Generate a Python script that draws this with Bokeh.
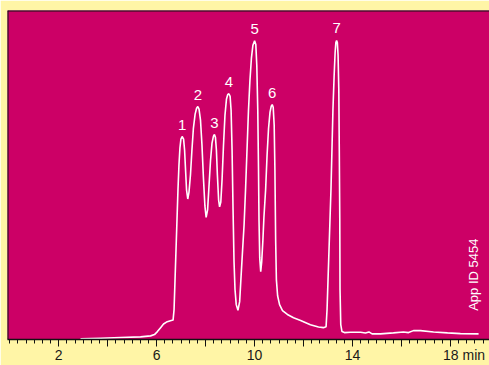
import math
from bokeh.plotting import figure
from bokeh.models import Range1d, FixedTicker, Label, ColumnDataSource, Span
from bokeh.core.properties import value
from bokeh.embed import file_html
from bokeh.resources import INLINE

# Chromatogram trace (time in minutes, detector signal in arbitrary units)
time_min = [
    2.89, 3.71, 4.52, 5.34, 5.75, 5.91, 6.03, 6.16, 6.28, 6.40, 6.56, 6.67,
    6.71, 6.75, 6.79, 6.83, 6.87, 6.91, 6.95, 6.99, 7.04, 7.10, 7.14, 7.18,
    7.22, 7.27, 7.32, 7.38, 7.44, 7.50, 7.57, 7.63, 7.68, 7.73, 7.79, 7.85,
    7.91, 7.97, 8.02, 8.08, 8.14, 8.20, 8.26, 8.32, 8.36, 8.40, 8.44, 8.48,
    8.53, 8.57, 8.62, 8.67, 8.73, 8.79, 8.85, 8.90, 8.95, 9.00, 9.04, 9.08,
    9.12, 9.16, 9.20, 9.25, 9.32, 9.39, 9.44, 9.51, 9.57, 9.63, 9.69, 9.75,
    9.81, 9.87, 9.93, 10.00, 10.05, 10.09, 10.13, 10.16, 10.18, 10.21, 10.25,
    10.29, 10.34, 10.38, 10.45, 10.51, 10.57, 10.63, 10.68, 10.72, 10.76,
    10.80, 10.83, 10.86, 10.89, 10.94, 11.02, 11.14, 11.34, 11.59, 11.88,
    12.28, 12.61, 12.81, 12.92, 12.96, 13.00, 13.04, 13.08, 13.12, 13.16,
    13.20, 13.25, 13.29, 13.32, 13.35, 13.38, 13.41, 13.44, 13.46, 13.48,
    13.49, 13.52, 13.57, 13.67, 13.92, 14.33, 14.53, 14.67, 14.80, 15.14,
    15.67, 16.08, 16.29, 16.49, 16.78, 17.31, 17.88, 18.41, 19.15,
]
signal = [
    0.2, 0.4, 0.6, 0.8, 1.1, 1.5, 2.4, 3.6, 4.7, 5.3, 5.7, 5.9,
    9.1, 18.2, 27.3, 36.4, 45.5, 53.0, 58.2, 60.9, 61.7, 60.9, 57.6, 51.5,
    45.5, 42.7, 44.8, 50.0, 57.6, 64.2, 68.5, 70.3, 70.8, 70.0, 66.7, 59.1,
    49.1, 40.6, 37.1, 39.4, 47.0, 54.5, 59.7, 61.8, 62.3, 61.5, 57.6, 50.0,
    42.4, 40.3, 41.8, 48.5, 59.1, 68.2, 73.0, 74.4, 74.7, 73.9, 69.7, 57.6,
    39.4, 23.6, 15.2, 10.6, 8.9, 11.5, 18.2, 27.3, 34.8, 45.5, 57.6, 69.7,
    78.8, 85.5, 89.4, 90.8, 89.7, 83.3, 69.7, 51.5, 36.4, 24.8, 20.6,
    23.6, 30.3, 37.0, 45.5, 56.1, 64.2, 69.1, 70.9, 71.4, 70.6,
    65.2, 51.5, 30.3, 18.2, 13.3, 10.6, 8.8, 7.6, 6.6, 5.8,
    4.5, 3.8, 3.6, 3.9, 9.1, 18.2, 27.3, 36.4, 45.5, 57.6,
    69.7, 80.3, 87.3, 90.3, 90.9, 90.3, 86.4, 75.8, 57.6, 36.4,
    15.2, 4.5, 2.4, 2.1, 2.2, 2.2, 2.0, 2.3, 1.7, 1.7,
    2.0, 2.3, 2.1, 2.7, 2.7, 2.3, 2.0, 1.8, 1.7,
]

# Peak annotations
peak_labels = ["1", "2", "3", "4", "5", "6", "7"]
peak_times = [7.04, 7.68, 8.36, 8.95, 10.00, 10.72, 13.35]
peak_heights = [61.7, 70.8, 62.3, 74.7, 90.8, 71.4, 90.9]

# Axis ticks
major_ticks = [2, 4, 6, 8, 10, 12, 14, 16, 18]
tick_text = {2: "2", 6: "6", 10: "10", 14: "14", 18: "18 min"}
minor_ticks = [k / 3 for k in range(0, 59)]

YELLOW = "#FFF5A6"
MAGENTA = "#CC0066"
DARK = "#111111"
FONT = "Liberation Sans"
X0, X1 = -0.094, 19.596

p = figure(
    width=489, height=365,
    x_range=Range1d(X0, X1), y_range=Range1d(0, 100),
    output_backend="svg", toolbar_location=None,
    min_border_left=7, min_border_right=0, min_border_top=10, min_border_bottom=25,
    y_axis_location=None,
)
p.background_fill_color = MAGENTA
p.border_fill_color = YELLOW
p.outline_line_color = None
p.xgrid.visible = False
p.ygrid.visible = False

p.add_layout(Span(location=100, dimension="width", line_color=DARK, line_width=2))
p.add_layout(Span(location=X0, dimension="height", line_color=DARK, line_width=2))

p.line(time_min, signal, line_color="white", line_width=1.6)

src = ColumnDataSource(dict(x=peak_times, y=peak_heights, t=peak_labels))
p.text(x="x", y="y", text="t", source=src, text_color="white",
       text_font=value(FONT), text_font_size="15px", text_align="center",
       text_baseline="alphabetic", y_offset=-12)

# "18 min": pad on the left so that the "18" stays centred on its tick
overrides = {}
for t in major_ticks:
    s = tick_text.get(t, "")
    if s.endswith("min"):
        s = "\u00a0" * 7 + s
    overrides[t] = s

ax = p.xaxis[0]
ax.ticker = FixedTicker(ticks=major_ticks, minor_ticks=minor_ticks)
ax.major_label_overrides = overrides
ax.axis_line_color = DARK
ax.axis_line_width = 1.5
ax.major_tick_line_color = DARK
ax.minor_tick_line_color = DARK
ax.major_tick_in = 0
ax.major_tick_out = 7
ax.minor_tick_in = 0
ax.minor_tick_out = 4
ax.major_label_standoff = 0
ax.major_label_text_font = FONT
ax.major_label_text_font_size = "14px"
ax.major_label_text_color = "#1a1a1a"

p.add_layout(Label(x=18.93, y=19.7, text="App ID 5454", angle=math.pi / 2,
                   text_font=FONT, text_font_size="13px", text_color="white",
                   text_align="center", text_baseline="alphabetic"))

open("out.html", "w").write(file_html(p, INLINE))
